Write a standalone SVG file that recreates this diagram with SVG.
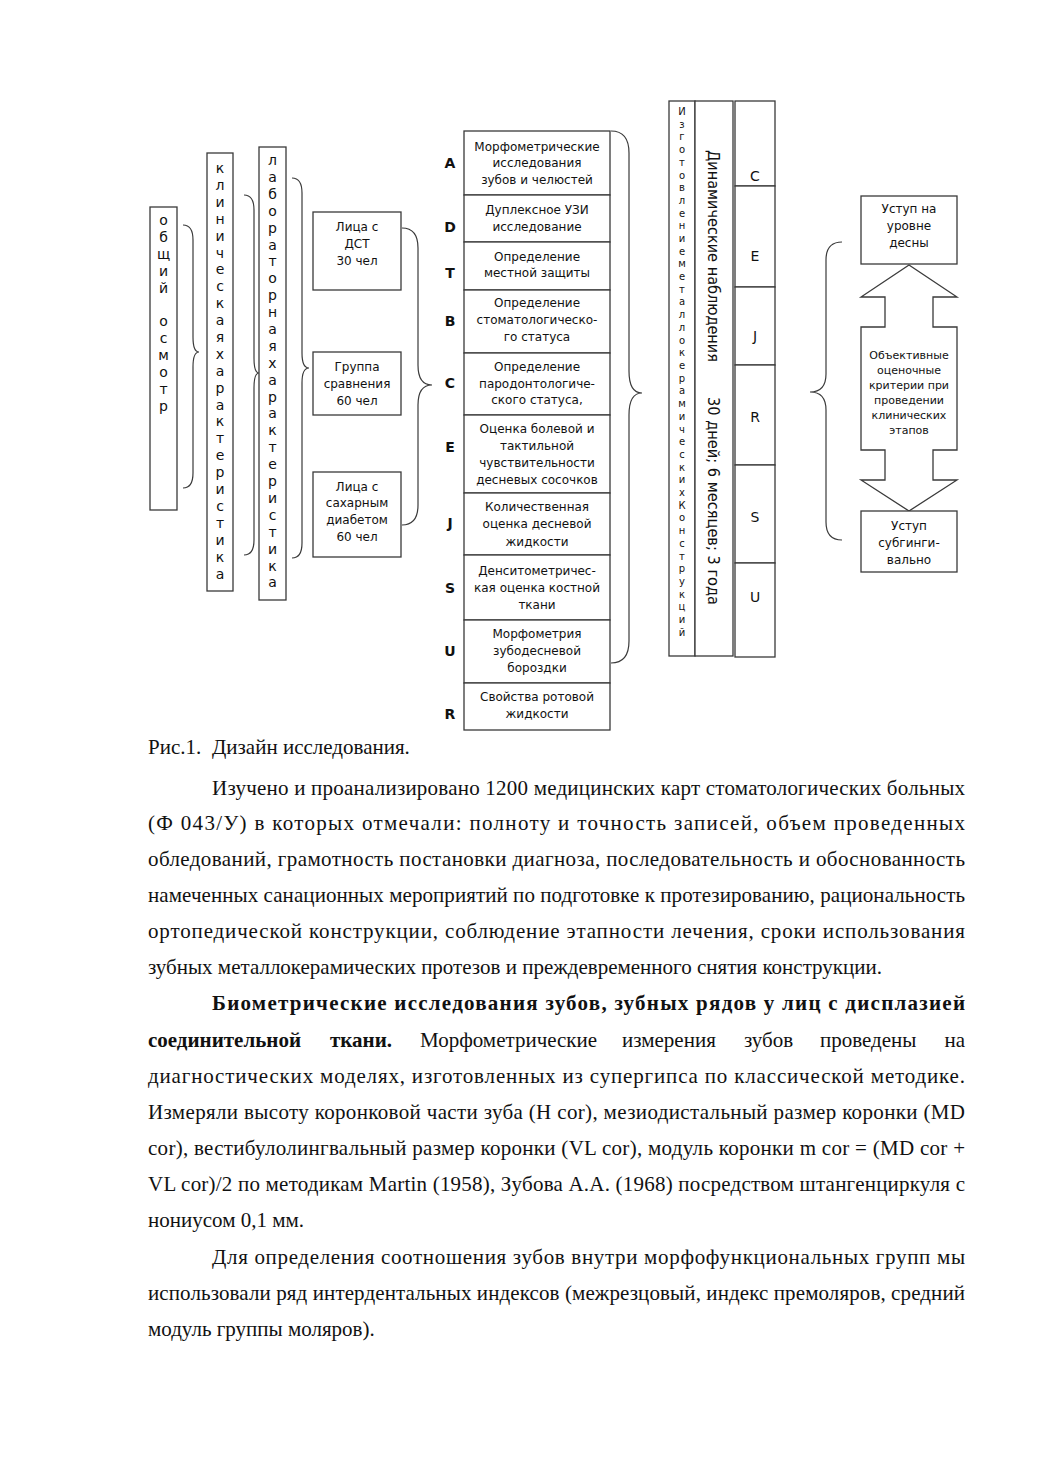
<svg xmlns="http://www.w3.org/2000/svg" width="1039" height="1471" viewBox="0 0 1039 1471">
<style>
.bx{fill:#fff;stroke:#3a3a3a;stroke-width:1.3}
.br{fill:none;stroke:#3a3a3a;stroke-width:1.2}
.t{font-family:"DejaVu Sans",Verdana,sans-serif;font-size:12px;fill:#111;text-anchor:middle}
.v{font-family:"DejaVu Sans",Verdana,sans-serif;font-size:14px;fill:#111;text-anchor:middle}
.vs{font-family:"DejaVu Sans",Verdana,sans-serif;font-size:10px;fill:#111;text-anchor:middle}
.lt{font-family:"DejaVu Sans",Verdana,sans-serif;font-size:14px;font-weight:bold;fill:#111;text-anchor:middle}
.cl{font-family:"DejaVu Sans",Verdana,sans-serif;font-size:14px;fill:#111;text-anchor:middle}
.p{font-family:"Liberation Serif","Times New Roman",serif;font-size:21px;fill:#111}
.pb{font-family:"Liberation Serif","Times New Roman",serif;font-size:21px;font-weight:bold;fill:#111}
</style>
<rect width="1039" height="1471" fill="#fff"/>

<g id="n-obshchiy-osmotr">
<rect class="bx" x="150" y="207" width="27" height="303"/>
<text class="v" x="163.5" y="225"><tspan x="163.5" dy="0">о</tspan><tspan x="163.5" dy="16.9">б</tspan><tspan x="163.5" dy="16.9">щ</tspan><tspan x="163.5" dy="16.9">и</tspan><tspan x="163.5" dy="16.9">й</tspan><tspan x="163.5" dy="33.8">о</tspan><tspan x="163.5" dy="16.9">с</tspan><tspan x="163.5" dy="16.9">м</tspan><tspan x="163.5" dy="16.9">о</tspan><tspan x="163.5" dy="16.9">т</tspan><tspan x="163.5" dy="16.9">р</tspan></text>
</g>

<g id="n-klinicheskaya">
<rect class="bx" x="207" y="153" width="26" height="438"/>
<text class="v" x="220" y="173"><tspan x="220" dy="0">к</tspan><tspan x="220" dy="16.9">л</tspan><tspan x="220" dy="16.9">и</tspan><tspan x="220" dy="16.9">н</tspan><tspan x="220" dy="16.9">и</tspan><tspan x="220" dy="16.9">ч</tspan><tspan x="220" dy="16.9">е</tspan><tspan x="220" dy="16.9">с</tspan><tspan x="220" dy="16.9">к</tspan><tspan x="220" dy="16.9">а</tspan><tspan x="220" dy="16.9">я</tspan><tspan x="220" dy="16.9">х</tspan><tspan x="220" dy="16.9">а</tspan><tspan x="220" dy="16.9">р</tspan><tspan x="220" dy="16.9">а</tspan><tspan x="220" dy="16.9">к</tspan><tspan x="220" dy="16.9">т</tspan><tspan x="220" dy="16.9">е</tspan><tspan x="220" dy="16.9">р</tspan><tspan x="220" dy="16.9">и</tspan><tspan x="220" dy="16.9">с</tspan><tspan x="220" dy="16.9">т</tspan><tspan x="220" dy="16.9">и</tspan><tspan x="220" dy="16.9">к</tspan><tspan x="220" dy="16.9">а</tspan></text>
</g>

<g id="n-laboratornaya">
<rect class="bx" x="259" y="147" width="27" height="453"/>
<text class="v" x="272.5" y="165"><tspan x="272.5" dy="0">л</tspan><tspan x="272.5" dy="16.9">а</tspan><tspan x="272.5" dy="16.9">б</tspan><tspan x="272.5" dy="16.9">о</tspan><tspan x="272.5" dy="16.9">р</tspan><tspan x="272.5" dy="16.9">а</tspan><tspan x="272.5" dy="16.9">т</tspan><tspan x="272.5" dy="16.9">о</tspan><tspan x="272.5" dy="16.9">р</tspan><tspan x="272.5" dy="16.9">н</tspan><tspan x="272.5" dy="16.9">а</tspan><tspan x="272.5" dy="16.9">я</tspan><tspan x="272.5" dy="16.9">х</tspan><tspan x="272.5" dy="16.9">а</tspan><tspan x="272.5" dy="16.9">р</tspan><tspan x="272.5" dy="16.9">а</tspan><tspan x="272.5" dy="16.9">к</tspan><tspan x="272.5" dy="16.9">т</tspan><tspan x="272.5" dy="16.9">е</tspan><tspan x="272.5" dy="16.9">р</tspan><tspan x="272.5" dy="16.9">и</tspan><tspan x="272.5" dy="16.9">с</tspan><tspan x="272.5" dy="16.9">т</tspan><tspan x="272.5" dy="16.9">и</tspan><tspan x="272.5" dy="16.9">к</tspan><tspan x="272.5" dy="16.9">а</tspan></text>
</g>

<g id="n-dst">
<rect class="bx" x="313" y="212" width="88" height="78"/>
<text class="t" x="357" y="231">Лица с</text><text class="t" x="357" y="248">ДСТ</text><text class="t" x="357" y="265">30 чел</text>
</g>
<g id="n-sravneniya">
<rect class="bx" x="313" y="352" width="88" height="63"/>
<text class="t" x="357" y="371">Группа</text><text class="t" x="357" y="388">сравнения</text><text class="t" x="357" y="405">60 чел</text>
</g>
<g id="n-diabet">
<rect class="bx" x="313" y="472" width="88" height="85"/>
<text class="t" x="357" y="491">Лица с</text><text class="t" x="357" y="507">сахарным</text><text class="t" x="357" y="524">диабетом</text><text class="t" x="357" y="541">60 чел</text>
</g>

<g id="letters">
<text class="lt" x="450" y="168">A</text>
<text class="lt" x="450" y="232">D</text>
<text class="lt" x="450" y="278">T</text>
<text class="lt" x="450" y="326">B</text>
<text class="lt" x="450" y="388">C</text>
<text class="lt" x="450" y="452">E</text>
<text class="lt" x="450" y="528">J</text>
<text class="lt" x="450" y="593">S</text>
<text class="lt" x="450" y="656">U</text>
<text class="lt" x="450" y="719">R</text>
</g>

<g id="n-A">
<rect class="bx" x="464" y="131" width="146" height="64"/>
<text class="t" x="537" y="151">Морфометрические</text><text class="t" x="537" y="167">исследования</text><text class="t" x="537" y="184">зубов и челюстей</text>
</g>
<g id="n-D">
<rect class="bx" x="464" y="195" width="146" height="47"/>
<text class="t" x="537" y="214">Дуплексное УЗИ</text><text class="t" x="537" y="231">исследование</text>
</g>
<g id="n-T">
<rect class="bx" x="464" y="242" width="146" height="48"/>
<text class="t" x="537" y="261">Определение</text><text class="t" x="537" y="277">местной защиты</text>
</g>
<g id="n-B">
<rect class="bx" x="464" y="290" width="146" height="63"/>
<text class="t" x="537" y="307">Определение</text><text class="t" x="537" y="324">стоматологическо-</text><text class="t" x="537" y="341">го статуса</text>
</g>
<g id="n-C">
<rect class="bx" x="464" y="353" width="146" height="62"/>
<text class="t" x="537" y="371">Определение</text><text class="t" x="537" y="388">пародонтологиче-</text><text class="t" x="537" y="404">ского статуса,</text>
</g>
<g id="n-E">
<rect class="bx" x="464" y="415" width="146" height="78"/>
<text class="t" x="537" y="433">Оценка болевой и</text><text class="t" x="537" y="450">тактильной</text><text class="t" x="537" y="467">чувствительности</text><text class="t" x="537" y="484">десневых сосочков</text>
</g>
<g id="n-J">
<rect class="bx" x="464" y="493" width="146" height="62"/>
<text class="t" x="537" y="511">Количественная</text><text class="t" x="537" y="528">оценка десневой</text><text class="t" x="537" y="546">жидкости</text>
</g>
<g id="n-S">
<rect class="bx" x="464" y="555" width="146" height="65"/>
<text class="t" x="537" y="575">Денситометричес-</text><text class="t" x="537" y="592">кая оценка костной</text><text class="t" x="537" y="609">ткани</text>
</g>
<g id="n-U">
<rect class="bx" x="464" y="620" width="146" height="63"/>
<text class="t" x="537" y="638">Морфометрия</text><text class="t" x="537" y="655">зубодесневой</text><text class="t" x="537" y="672">бороздки</text>
</g>
<g id="n-R">
<rect class="bx" x="464" y="683" width="146" height="47"/>
<text class="t" x="537" y="701">Свойства ротовой</text><text class="t" x="537" y="718">жидкости</text>
</g>

<g id="n-izgotovlenie">
<rect class="bx" x="669" y="101" width="26" height="555"/>
<text class="vs" x="682" y="115"><tspan x="682" dy="0">И</tspan><tspan x="682" dy="12.7">з</tspan><tspan x="682" dy="12.7">г</tspan><tspan x="682" dy="12.7">о</tspan><tspan x="682" dy="12.7">т</tspan><tspan x="682" dy="12.7">о</tspan><tspan x="682" dy="12.7">в</tspan><tspan x="682" dy="12.7">л</tspan><tspan x="682" dy="12.7">е</tspan><tspan x="682" dy="12.7">н</tspan><tspan x="682" dy="12.7">и</tspan><tspan x="682" dy="12.7">е</tspan><tspan x="682" dy="12.7">м</tspan><tspan x="682" dy="12.7">е</tspan><tspan x="682" dy="12.7">т</tspan><tspan x="682" dy="12.7">а</tspan><tspan x="682" dy="12.7">л</tspan><tspan x="682" dy="12.7">л</tspan><tspan x="682" dy="12.7">о</tspan><tspan x="682" dy="12.7">к</tspan><tspan x="682" dy="12.7">е</tspan><tspan x="682" dy="12.7">р</tspan><tspan x="682" dy="12.7">а</tspan><tspan x="682" dy="12.7">м</tspan><tspan x="682" dy="12.7">и</tspan><tspan x="682" dy="12.7">ч</tspan><tspan x="682" dy="12.7">е</tspan><tspan x="682" dy="12.7">с</tspan><tspan x="682" dy="12.7">к</tspan><tspan x="682" dy="12.7">и</tspan><tspan x="682" dy="12.7">х</tspan><tspan x="682" dy="12.7">К</tspan><tspan x="682" dy="12.7">о</tspan><tspan x="682" dy="12.7">н</tspan><tspan x="682" dy="12.7">с</tspan><tspan x="682" dy="12.7">т</tspan><tspan x="682" dy="12.7">р</tspan><tspan x="682" dy="12.7">у</tspan><tspan x="682" dy="12.7">к</tspan><tspan x="682" dy="12.7">ц</tspan><tspan x="682" dy="12.7">и</tspan><tspan x="682" dy="12.7">й</tspan></text>
</g>

<g id="n-dinamicheskie">
<rect class="bx" x="695" y="101" width="38" height="555"/>
<text class="t" style="font-size:16px;text-anchor:start" transform="translate(708,150) rotate(90)" textLength="212" lengthAdjust="spacingAndGlyphs">Динамические наблюдения</text>
<text class="t" style="font-size:16px;text-anchor:start" transform="translate(708,397) rotate(90)" textLength="208" lengthAdjust="spacingAndGlyphs">30 дней; 6 месяцев; 3 года</text>
</g>

<g id="n-stages">
<rect class="bx" x="735" y="101" width="40" height="85"/>
<rect class="bx" x="735" y="186" width="40" height="101"/>
<rect class="bx" x="735" y="287" width="40" height="78"/>
<rect class="bx" x="735" y="365" width="40" height="100"/>
<rect class="bx" x="735" y="465" width="40" height="98"/>
<rect class="bx" x="735" y="563" width="40" height="94"/>
<text class="cl" x="755" y="181">C</text>
<text class="cl" x="755" y="261">E</text>
<text class="cl" x="755" y="341">J</text>
<text class="cl" x="755" y="422">R</text>
<text class="cl" x="755" y="522">S</text>
<text class="cl" x="755" y="602">U</text>
</g>

<g id="n-ustup-desna">
<rect class="bx" x="861" y="196" width="96" height="68"/>
<text class="t" x="909" y="213">Уступ на</text><text class="t" x="909" y="230">уровне</text><text class="t" x="909" y="247">десны</text>
</g>
<g id="n-criteria">
<polygon class="bx" points="909,265 957,297 933,297 933,327 957,327 957,450 933,450 933,480 957,480 909,511 861,480 885,480 885,450 861,450 861,327 885,327 885,297 861,297"/>
<text class="t" style="font-size:11px" x="909" y="359">Объективные</text>
<text class="t" style="font-size:11px" x="909" y="374">оценочные</text>
<text class="t" style="font-size:11px" x="909" y="389">критерии при</text>
<text class="t" style="font-size:11px" x="909" y="404">проведении</text>
<text class="t" style="font-size:11px" x="909" y="419">клинических</text>
<text class="t" style="font-size:11px" x="909" y="434">этапов</text>
</g>
<g id="n-ustup-subging">
<rect class="bx" x="861" y="511" width="96" height="61"/>
<text class="t" x="909" y="530">Уступ</text><text class="t" x="909" y="547">субгинги-</text><text class="t" x="909" y="564">вально</text>
</g>

<g id="connectors">
<path class="br" d="M183,225 Q193,225 193,240 L193,337 Q193,352 199,352 Q193,352 193,367 L193,473 Q193,488 183,488"/>
<path class="br" d="M244,195 Q254,195 254,210 L254,358 Q254,373 259,373 Q254,373 254,388 L254,540 Q254,555 244,555"/>
<path class="br" d="M292,178 Q302,178 302,193 L302,353 Q302,368 309,368 Q302,368 302,383 L302,543 Q302,558 292,558"/>
<path class="br" d="M402,228 Q418,228 418,248 L418,365 Q418,385 432,385 Q418,385 418,405 L418,505 Q418,525 402,525"/>
<path class="br" d="M611,131 Q629,131 629,153 L629,371 Q629,393 642,393 Q629,393 629,415 L629,641 Q629,663 611,663"/>
<path class="br" d="M842,242 Q826,242 826,260 L826,374 Q826,392 810,392 Q826,392 826,410 L826,522 Q826,540 842,540"/>
</g>

<g id="body-text">
<text class="p" x="148" y="754">Рис.1.</text>
<text class="p" x="212" y="754">Дизайн исследования.</text>
<text class="p" x="212" y="795" textLength="753" lengthAdjust="spacing">Изучено и проанализировано 1200 медицинских карт стоматологических больных</text>
<text class="p" x="148" y="830" textLength="817" lengthAdjust="spacing">(Ф 043/У) в которых отмечали: полноту и точность записей, объем проведенных</text>
<text class="p" x="148" y="866" textLength="817" lengthAdjust="spacing">обледований, грамотность постановки диагноза, последовательность и обоснованность</text>
<text class="p" x="148" y="902" textLength="817" lengthAdjust="spacing">намеченных санационных мероприятий по подготовке к протезированию, рациональность</text>
<text class="p" x="148" y="938" textLength="817" lengthAdjust="spacing">ортопедической конструкции, соблюдение этапности лечения, сроки использования</text>
<text class="p" x="148" y="974">зубных металлокерамических протезов и преждевременного снятия конструкции.</text>
<text class="pb" x="212" y="1010" textLength="753" lengthAdjust="spacing">Биометрические исследования зубов, зубных рядов у лиц с дисплазией</text>
<text class="pb" x="148" y="1047">соединительной</text>
<text class="pb" x="330" y="1047">ткани.</text>
<text class="p" x="420" y="1047">Морфометрические</text>
<text class="p" x="622" y="1047">измерения</text>
<text class="p" x="744" y="1047">зубов</text>
<text class="p" x="820" y="1047">проведены</text>
<text class="p" x="965" y="1047" text-anchor="end">на</text>
<text class="p" x="148" y="1083" textLength="817" lengthAdjust="spacing">диагностических моделях, изготовленных из супергипса по классической методике.</text>
<text class="p" x="148" y="1119" textLength="817" lengthAdjust="spacing">Измеряли высоту коронковой части зуба (H cor), мезиодистальный размер коронки (MD</text>
<text class="p" x="148" y="1155" textLength="817" lengthAdjust="spacing">cor), вестибулолингвальный размер коронки (VL cor), модуль коронки m cor = (MD cor +</text>
<text class="p" x="148" y="1191" textLength="817" lengthAdjust="spacing">VL cor)/2 по методикам Martin (1958), Зубова А.А. (1968) посредством штангенциркуля с</text>
<text class="p" x="148" y="1227">нониусом 0,1 мм.</text>
<text class="p" x="212" y="1264" textLength="753" lengthAdjust="spacing">Для определения соотношения зубов внутри морфофункциональных групп мы</text>
<text class="p" x="148" y="1300" textLength="817" lengthAdjust="spacing">использовали ряд интердентальных индексов (межрезцовый, индекс премоляров, средний</text>
<text class="p" x="148" y="1336">модуль группы моляров).</text>
</g>
</svg>
